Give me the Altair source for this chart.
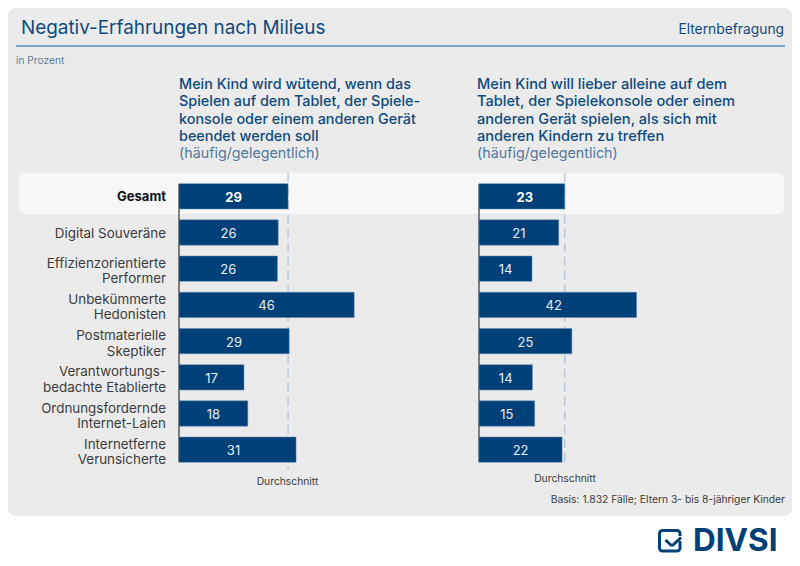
import altair as alt
import pandas as pd

FONT = "Inter"
NAVY = "#004078"
BLUE_TXT = "#0f4a7d"
SUB_TXT = "#54789b"
GREY_TXT = "#3c3c3c"

rows = ["Gesamt", "Digital Souveräne", "Effizienzorientierte\nPerformer", "Unbekümmerte\nHedonisten",
        "Postmaterielle\nSkeptiker", "Verantwortungs-\nbedachte Etablierte", "Ordnungsfordernde\nInternet-Laien",
        "Internetferne\nVerunsicherte"]
labels_a = [29, 26, 26, 46, 29, 17, 18, 31]
labels_b = [23, 21, 14, 42, 25, 14, 15, 22]
lengths_a = [28.7, 26.1, 25.9, 46.1, 29.0, 17.1, 18.1, 30.8]
lengths_b = [22.8, 21.2, 14.1, 41.9, 24.7, 14.2, 14.8, 22.1]
avg_a = 28.7
avg_b = 22.8

title = "Negativ-Erfahrungen nach Milieus"
tag = "Elternbefragung"
unit = "in Prozent"
head_a = "Mein Kind wird wütend, wenn das\nSpielen auf dem Tablet, der Spiele-\nkonsole oder einem anderen Gerät\nbeendet werden soll"
head_b = "Mein Kind will lieber alleine auf dem\nTablet, der Spielekonsole oder einem\nanderen Gerät spielen, als sich mit\nanderen Kindern zu treffen"
sub = "(häufig/gelegentlich)"
avg_label = "Durchschnitt"
basis = "Basis: 1.832 Fälle; Eltern 3- bis 8-jähriger Kinder"

W, H = 784, 550
OX, OY = 8, 8
dummy = alt.Data(values=[{"a": 1}])


def px(v):
    return alt.value(v - OX)


def py(v):
    return alt.value(v - OY)


def box(x0, x1, y0, y1, **kw):
    return alt.Chart(dummy).mark_rect(**kw).encode(x=px(x0), x2=px(x1), y=py(y0), y2=py(y1))


def seg(x0, x1, y0, y1, color, width, **kw):
    return alt.Chart(dummy).mark_rule(color=color, strokeWidth=width, **kw).encode(
        x=px(x0), x2=px(x1), y=py(y0), y2=py(y1))


def txt(s, x, y, size, color, align="left", weight=400, lh=None):
    kw = {"lineHeight": lh} if lh else {}
    return alt.Chart(alt.Data(values=[{"t": s}])).mark_text(
        font=FONT, fontSize=size, color=color, align=align, baseline="alphabetic",
        fontWeight=weight, lineBreak="\n", **kw).encode(x=px(x), y=py(y), text="t:N")


y_scale = alt.Scale(domain=rows, range=[178.2 - OY, 467.8 - OY], paddingInner=0.3, paddingOuter=0.15)


def panel(labels, lengths, avg, x0, x_per_unit, rule_end, nudges):
    df = pd.DataFrame({"row": rows, "v": lengths, "label": labels})
    df["mid"] = df["v"] / 2 + [n / x_per_unit for n in nudges]
    xs = alt.Scale(domain=[0, 100], range=[x0 - OX, x0 - OX + 100 * x_per_unit])
    y = alt.Y("row:N", scale=y_scale, axis=None, sort=None)
    x = alt.X("v:Q", scale=xs, axis=None)
    base = alt.Chart(df)
    bars = base.mark_bar(color=NAVY, stroke="#5f8bb3", strokeWidth=0.5).encode(x=x, y=y)
    rule = alt.Chart(pd.DataFrame({"v": [avg]})).mark_rule(
        color="#b4bfd6", strokeWidth=1.2, strokeDash=[9, 5]).encode(x=x, y=py(173), y2=py(rule_end))
    axis_line = alt.Chart(pd.DataFrame({"v": [0]})).mark_rule(color="#333333", strokeWidth=1.2).encode(
        x=x, y=py(184), y2=py(462))
    t1 = base.transform_filter("datum.row == 'Gesamt'").mark_text(
        font=FONT, fontSize=13, fontWeight=700, color="white", dy=1.5).encode(
        x=alt.X("mid:Q", scale=xs, axis=None), y=y, text="label:N")
    t2 = base.transform_filter("datum.row != 'Gesamt'").mark_text(
        font=FONT, fontSize=13, color="#e8eef5", dy=1.5).encode(
        x=alt.X("mid:Q", scale=xs, axis=None), y=y, text="label:N")
    return alt.layer(rule, axis_line, bars, t1, t2)


row_df = pd.DataFrame({"row": rows})
row_y = alt.Y("row:N", scale=y_scale, axis=None, sort=None)
row_labels_total = alt.Chart(row_df).transform_filter("datum.row == 'Gesamt'").mark_text(
    font=FONT, fontSize=13, fontWeight=700, color="#111111", align="right", dy=1).encode(
    x=px(166), y=row_y, text="row:N")
row_labels_single = alt.Chart(row_df).transform_filter("datum.row == 'Digital Souveräne'").mark_text(
    font=FONT, fontSize=13.4, color=GREY_TXT, align="right", dy=1).encode(
    x=px(166), y=row_y, text="row:N")
row_labels = alt.Chart(row_df).transform_filter(
    "indexof(datum.row, '\\n') >= 0").mark_text(
    font=FONT, fontSize=13.4, color=GREY_TXT, align="right", lineBreak="\n", lineHeight=15.6, dy=-5).encode(
    x=px(166), y=row_y, text="row:N")

background = alt.layer(
    box(8, 792, 8, 516, color="#ebebeb", cornerRadius=8),
    box(19, 784, 173, 214, color="#f7f7f7", cornerRadius=6),
    seg(16, 785, 46, 46, "#5f8fb8", 1.3),
)

texts = alt.layer(
    txt(title, 21, 34, 18.9, BLUE_TXT),
    txt(tag, 784, 34, 13.8, BLUE_TXT, align="right"),
    txt(unit, 16, 64, 10.2, "#5f7f9c"),
    txt(head_a, 179, 89, 14.4, BLUE_TXT, weight=500, lh=17.3),
    txt(sub, 179, 158, 14.3, SUB_TXT),
    txt(head_b, 477, 89, 14.6, BLUE_TXT, weight=500, lh=17.3),
    txt(sub, 477, 158, 14.3, SUB_TXT),
    txt(avg_label, 287.5, 485, 10.3, GREY_TXT, align="center"),
    txt(avg_label, 565, 482, 10.3, GREY_TXT, align="center"),
    txt(basis, 785, 503, 10.3, GREY_TXT, align="right"),
)

logo = alt.layer(
    box(659.5, 680, 530.5, 551, fill="none", stroke=NAVY, strokeWidth=3, cornerRadius=3),
    box(677, 683, 536, 541, color="white"),
    seg(665.5, 672, 540, 546, NAVY, 3),
    seg(672, 681, 546, 537.5, NAVY, 3),
    txt("DIVSI", 693, 550.5, 31.5, NAVY, weight=700),
)

chart = alt.layer(
    background,
    panel(labels_a, lengths_a, avg_a, 179, 3.8, 470, [0, 0, 0, 0, 0, 0, 0, -4]),
    panel(labels_b, lengths_b, avg_b, 479, 3.76, 467, [3, 0, 0, -4, 0, 0, 0, 0]),
    row_labels_total, row_labels_single, row_labels, texts, logo,
).resolve_scale(x="independent").properties(
    width=W, height=H, padding=0, autosize=alt.AutoSizeParams(type="none")
).configure_view(stroke=None)

chart.save("out.html", embed_options={"renderer": "svg", "actions": False})
